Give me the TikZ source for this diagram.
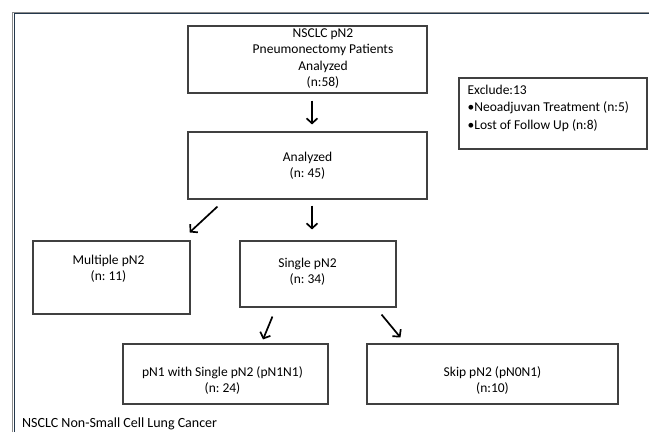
\documentclass[tikz,border=0pt]{standalone}
\usepackage{fontspec}
\setmainfont{Carlito}
\frenchspacing
\usetikzlibrary{arrows.meta}
\begin{document}
\begin{tikzpicture}[x=1pt,y=-1pt,
  box/.style={draw=black!75,line width=1.1pt,inner sep=0pt},
  txt/.style={align=center,font=\fontsize{13.5}{16.5}\selectfont,inner sep=0pt},
  arr/.style={line width=1.7pt,-{Straight Barb[length=5pt,width=11pt]}}]
\useasboundingbox (0,0) rectangle (649,432);
% page frame
\draw[black!45,line width=1pt] (12,432) -- (12,12) -- (649,12);
\draw[color={rgb,255:red,35;green,55;blue,75},line width=1pt] (14.5,432) -- (14.5,13.4) -- (649,13.4);
% boxes
\node[box,minimum width=239,minimum height=67] (start) at (307.5,59.5) {};
\node[txt] (starttxt) at ([xshift=15.5pt,yshift=1pt]start.center) {NSCLC pN2\\Pneumonectomy Patients\\Analyzed\\(n:58)};
\node[box,minimum width=239,minimum height=67] (analyzed) at (307.5,165.5) {};
\node[txt] (analyzedtxt) at (analyzed.center) {Analyzed\\(n: 45)};
\node[box,minimum width=188,minimum height=71] (exclude) at (553,113.5) {};
\node[txt,align=left,anchor=north west,font=\fontsize{13.5}{17.5}\selectfont] (excludetxt) at ([xshift=9pt,yshift=-7pt]exclude.north west) {Exclude:13\\•Neoadjuvan Treatment (n:5)\\•Lost of Follow Up (n:8)};
\node[box,minimum width=157,minimum height=73] (multiple) at (111.5,277.5) {};
\node[txt] (multipletxt) at ([xshift=-3pt,yshift=9pt]multiple.center) {Multiple pN2\\(n: 11)};
\node[box,minimum width=156,minimum height=66] (single) at (318,274) {};
\node[txt] (singletxt) at ([xshift=-10.5pt,yshift=2.5pt]single.center) {Single pN2\\(n: 34)};
\node[box,minimum width=205,minimum height=60] (pnone) at (225.5,374) {};
\node[txt] (pnonetxt) at ([xshift=-3pt,yshift=-6.5pt]pnone.center) {pN1 with Single pN2 (pN1N1)\\(n: 24)};
\node[box,minimum width=251,minimum height=60] (skip) at (492.5,374) {};
\node[txt] (skiptxt) at ([yshift=-6.5pt]skip.center) {Skip pN2 (pN0N1)\\(n:10)};
% arrows
\draw[arr] ([xshift=4.5pt,yshift=-7pt]start.south) -- ([xshift=4.5pt,yshift=7pt]analyzed.north);
\draw[arr] ([xshift=30pt,yshift=-7pt]analyzed.south west) -- ([xshift=-1pt,yshift=8pt]multiple.north east);
\draw[arr] ([xshift=4.5pt,yshift=-6pt]analyzed.south) -- ([xshift=-6pt,yshift=11pt]single.north);
\draw[arr] ([xshift=33pt,yshift=-9pt]single.south west) -- ([xshift=37.5pt,yshift=4pt]pnone.north);
\draw[arr] ([xshift=-15pt,yshift=-7pt]single.south east) -- ([xshift=34pt,yshift=6pt]skip.north west);
% note
\node[txt,anchor=west,font=\fontsize{14}{16.5}\selectfont] (note) at (22,424) {NSCLC Non-Small Cell Lung Cancer};
\end{tikzpicture}
\end{document}
